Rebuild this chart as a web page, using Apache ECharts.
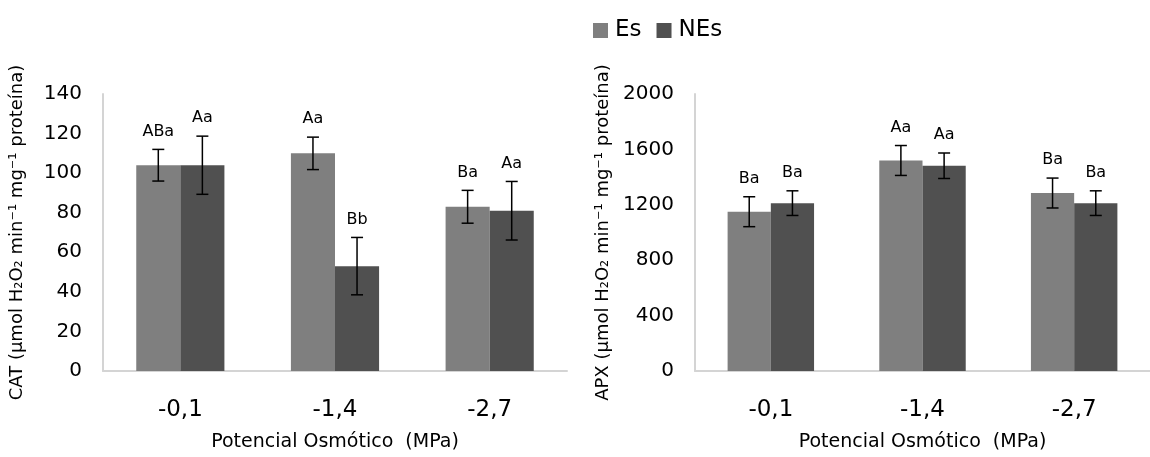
<!DOCTYPE html>
<html>
<head>
<meta charset="utf-8">
<script src="https://cdn.jsdelivr.net/npm/echarts@6/dist/echarts.min.js"></script>
<style>html,body{margin:0;padding:0;background:#fff}#c{width:1150px;height:457px}</style>
</head>
<body>
<div id="c"></div>
<script>
const categories = ['-0,1', '-1,4', '-2,7'];
const seriesNames = ['Es', 'NEs'];
// CAT chart
const catEs = [104, 110, 83];
const catEsErr = [8, 8.2, 8.3];
const catEsLbl = ['ABa', 'Aa', 'Ba'];
const catNEs = [104, 53, 81];
const catNEsErr = [14.7, 14.5, 14.8];
const catNEsLbl = ['Aa', 'Bb', 'Aa'];
// APX chart
const apxEs = [1150, 1520, 1285];
const apxEsErr = [108, 108, 108];
const apxEsLbl = ['Ba', 'Aa', 'Ba'];
const apxNEs = [1212, 1482, 1212];
const apxNEsErr = [89, 92, 89];
const apxNEsLbl = ['Ba', 'Aa', 'Ba'];
const catTicks = [0, 20, 40, 60, 80, 100, 120, 140];
const apxTicks = [0, 400, 800, 1200, 1600, 2000];

const FONT = 'DejaVu Sans';
const colEs = '#7f7f7f', colNEs = '#505050';
const CATGAP = 0.43;

function errSeries(name, vals, errs, lbls, sign, idx) {
  return {
    type: 'custom', name: name, xAxisIndex: idx, yAxisIndex: idx, z: 10,
    data: vals.map((v, i) => [i, v, errs[i]]),
    encode: { x: 0, y: 1 },
    renderItem: function (params, api) {
      const i = api.value(0), v = api.value(1), e = api.value(2);
      const band = api.size([1, 0])[0];
      const bw = band * (1 - CATGAP) / 2;
      const c = api.coord([i, v]);
      const x = c[0] + sign * bw / 2;
      const top = api.coord([i, v + e])[1];
      const bot = api.coord([i, v - e])[1];
      const cap = 6;
      const st = { stroke: '#000', lineWidth: 1.5 };
      return {
        type: 'group', children: [
          { type: 'line', shape: { x1: x, y1: top, x2: x, y2: bot }, style: st },
          { type: 'line', shape: { x1: x - cap, y1: top, x2: x + cap, y2: top }, style: st },
          { type: 'line', shape: { x1: x - cap, y1: bot, x2: x + cap, y2: bot }, style: st },
          { type: 'text', style: { text: lbls[params.dataIndex], x: x, y: top - 18, align: 'center', verticalAlign: 'middle', fontSize: 16, fontFamily: FONT, fill: '#000' } }
        ]
      };
    }
  };
}

function xAxisCfg(idx) {
  return {
    type: 'category', gridIndex: idx, data: categories,
    axisLine: { lineStyle: { color: '#d4d4d4', width: 2 } },
    axisTick: { show: false },
    axisLabel: { color: '#000', fontSize: 23, fontFamily: FONT, margin: 28 },
    name: 'Potencial Osmótico  (MPa)', nameLocation: 'middle', nameGap: 62,
    nameTextStyle: { color: '#000', fontSize: 19, fontFamily: FONT }
  };
}
function yAxisCfg(idx, ticks, name, gap) {
  return {
    type: 'value', gridIndex: idx, min: ticks[0], max: ticks[ticks.length - 1], interval: ticks[1] - ticks[0],
    axisLine: { show: true, lineStyle: { color: '#d4d4d4', width: 2 } },
    axisTick: { show: false }, splitLine: { show: false },
    axisLabel: { color: '#000', fontSize: 20, fontFamily: FONT, margin: 21, formatter: v => String(v) },
    name: name, nameLocation: 'middle', nameGap: gap,
    nameTextStyle: { color: '#000', fontSize: 18, fontFamily: FONT }
  };
}
function barSeries(name, vals, color, idx) {
  return {
    type: 'bar', name: name, xAxisIndex: idx, yAxisIndex: idx, data: vals,
    barGap: '0%', barCategoryGap: (CATGAP * 100) + '%',
    itemStyle: { color: color }
  };
}

const chart = echarts.init(document.getElementById('c'), null, { renderer: 'canvas' });
chart.setOption({
  animation: false,
  backgroundColor: '#fff',
  textStyle: { fontFamily: FONT },
  legend: {
    data: seriesNames, left: 588, top: 14, itemWidth: 15, itemHeight: 15, itemGap: 15, icon: 'rect',
    textStyle: { color: '#000', fontSize: 23, fontFamily: FONT, padding: [0, 0, 0, 2] }
  },
  grid: [
    { left: 103, right: 583, top: 94, bottom: 84 },
    { left: 695, right: -11, top: 94, bottom: 83 }
  ],
  xAxis: [xAxisCfg(0), xAxisCfg(1)],
  yAxis: [
    yAxisCfg(0, catTicks, 'CAT (µmol H₂O₂ min⁻¹ mg⁻¹ proteína)', 77),
    yAxisCfg(1, apxTicks, 'APX (µmol H₂O₂ min⁻¹ mg⁻¹ proteína)', 83)
  ],
  series: [
    barSeries('Es', catEs, colEs, 0),
    barSeries('NEs', catNEs, colNEs, 0),
    barSeries('Es', apxEs, colEs, 1),
    barSeries('NEs', apxNEs, colNEs, 1),
    errSeries('Es', catEs, catEsErr, catEsLbl, -1, 0),
    errSeries('NEs', catNEs, catNEsErr, catNEsLbl, 1, 0),
    errSeries('Es', apxEs, apxEsErr, apxEsLbl, -1, 1),
    errSeries('NEs', apxNEs, apxNEsErr, apxNEsLbl, 1, 1)
  ]
});
</script>
</body>
</html>
